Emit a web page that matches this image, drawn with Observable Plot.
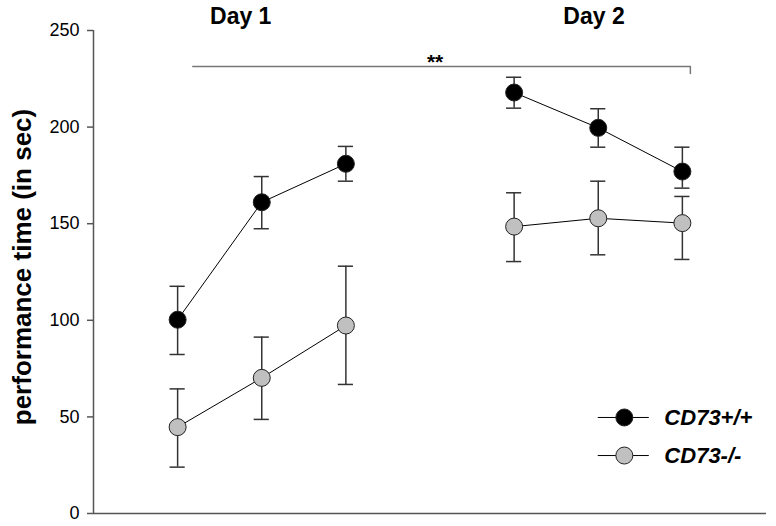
<!DOCTYPE html>
<html><head><meta charset="utf-8">
<script src="https://cdn.jsdelivr.net/npm/d3@7"></script>
<script src="https://cdn.jsdelivr.net/npm/@observablehq/plot@0.6"></script>
<style>body{margin:0;background:#fff} svg{display:block}</style>
</head><body><div id="chart"></div>
<script>
// session positions (Day 1: trials 1-3, Day 2: trials 1-3, with a gap)
const sessions = [1, 2, 3, 5, 6, 7];
const days = ["Day 1", "Day 1", "Day 1", "Day 2", "Day 2", "Day 2"];
const groups = ["CD73+/+", "CD73-/-"];
// CD73+/+ (wild type)
const wtMean = [100.3, 161.1, 181.0, 217.9, 199.6, 177.0];
const wtHi   = [117.6, 174.4, 190.0, 225.8, 209.5, 189.6];
const wtLo   = [82.3, 147.4, 172.0, 209.8, 189.6, 168.4];
// CD73-/- (knock-out)
const koMean = [44.7, 70.2, 97.3, 148.5, 152.8, 150.3];
const koHi   = [64.5, 91.3, 128.0, 166.0, 172.0, 164.1];
const koLo   = [24.0, 48.7, 66.8, 130.4, 133.9, 131.5];
const yTicks = [0, 50, 100, 150, 200, 250];
const yLabel = "performance time (in sec)";
const dayLabels = ["Day 1", "Day 2"];
const dayLabelX = [1.75, 5.95];
const sigLabel = "**";
const sigLabelX = 4.06;
const sigBracketX = [1.18, 7.095];
const sigBracketY = [231.4, 227.7];
const legendY = [49.7, 30.0];

const fills = {"CD73+/+": "#000000", "CD73-/-": "#c0c0c0"};
const rows = [];
sessions.forEach((s, i) => {
  rows.push({x: s, day: days[i], g: groups[0], m: wtMean[i], hi: wtHi[i], lo: wtLo[i]});
  rows.push({x: s, day: days[i], g: groups[1], m: koMean[i], hi: koHi[i], lo: koLo[i]});
});
const bracket = [
  {x: sigBracketX[0], y: sigBracketY[0]},
  {x: sigBracketX[1], y: sigBracketY[0]},
  {x: sigBracketX[1], y: sigBracketY[1]}
];
const dayRows = dayLabels.map((t, i) => ({t, x: dayLabelX[i]}));
const legendRows = groups.map((g, i) => ({g, y: legendY[i]}));
const capW = 0.09;
const errColor = "#333";

const chart = Plot.plot({
  width: 776,
  height: 526,
  marginLeft: 93,
  marginRight: 10,
  marginTop: 30,
  marginBottom: 13,
  style: {fontFamily: "'Liberation Sans', Arial, Helvetica, sans-serif", background: "#fff", color: "#000"},
  x: {domain: [0, 8], axis: null},
  y: {domain: [0, 250]},
  marks: [
    Plot.axisY({ticks: yTicks, tickSize: 6, tickPadding: 8, fontSize: 18, label: null, stroke: "#555", strokeWidth: 1.5}),
    Plot.ruleX([0], {y1: 0, y2: 250, stroke: "#555", strokeWidth: 1.5}),
    Plot.ruleY([0], {stroke: "#555", strokeWidth: 1.5}),
    // error bars
    Plot.ruleX(rows, {x: "x", y1: "lo", y2: "hi", stroke: errColor, strokeWidth: 1.5}),
    Plot.ruleY(rows, {x1: d => d.x - capW, x2: d => d.x + capW, y: "hi", stroke: errColor, strokeWidth: 1.5}),
    Plot.ruleY(rows, {x1: d => d.x - capW, x2: d => d.x + capW, y: "lo", stroke: errColor, strokeWidth: 1.5}),
    // connecting lines
    Plot.line(rows, {x: "x", y: "m", z: d => d.g + d.day, stroke: "#000", strokeWidth: 1}),
    Plot.dot(rows, {x: "x", y: "m", r: 8.5, fill: d => fills[d.g], stroke: "#222", strokeWidth: 1}),
    // significance bracket
    Plot.line(bracket, {x: "x", y: "y", stroke: "#777", strokeWidth: 1.5}),
    Plot.text([sigLabel], {x: sigLabelX, y: sigBracketY[0], lineAnchor: "bottom", dy: 3, fontSize: 21, fontWeight: "bold"}),
    // day labels
    Plot.text(dayRows, {x: "x", y: 253.6, text: "t", lineAnchor: "bottom", fontSize: 23, fontWeight: "bold"}),
    // y label
    Plot.text([yLabel], {frameAnchor: "left", textAnchor: "middle", rotate: -90, dx: -71, dy: -5, fontSize: 26, fontWeight: "bold", lineAnchor: "middle"}),
    // legend
    Plot.ruleY(legendRows, {x1: 6.0, x2: 6.607, y: "y", stroke: "#000", strokeWidth: 1}),
    Plot.dot(legendRows, {x: 6.31, y: "y", r: 8.5, fill: d => fills[d.g], stroke: "#222", strokeWidth: 1}),
    Plot.text(legendRows, {x: 6.786, y: "y", text: "g", textAnchor: "start", fontSize: 22, fontWeight: "bold", fontStyle: "italic"})
  ]
});
document.getElementById("chart").appendChild(chart);
</script>
</body></html>
